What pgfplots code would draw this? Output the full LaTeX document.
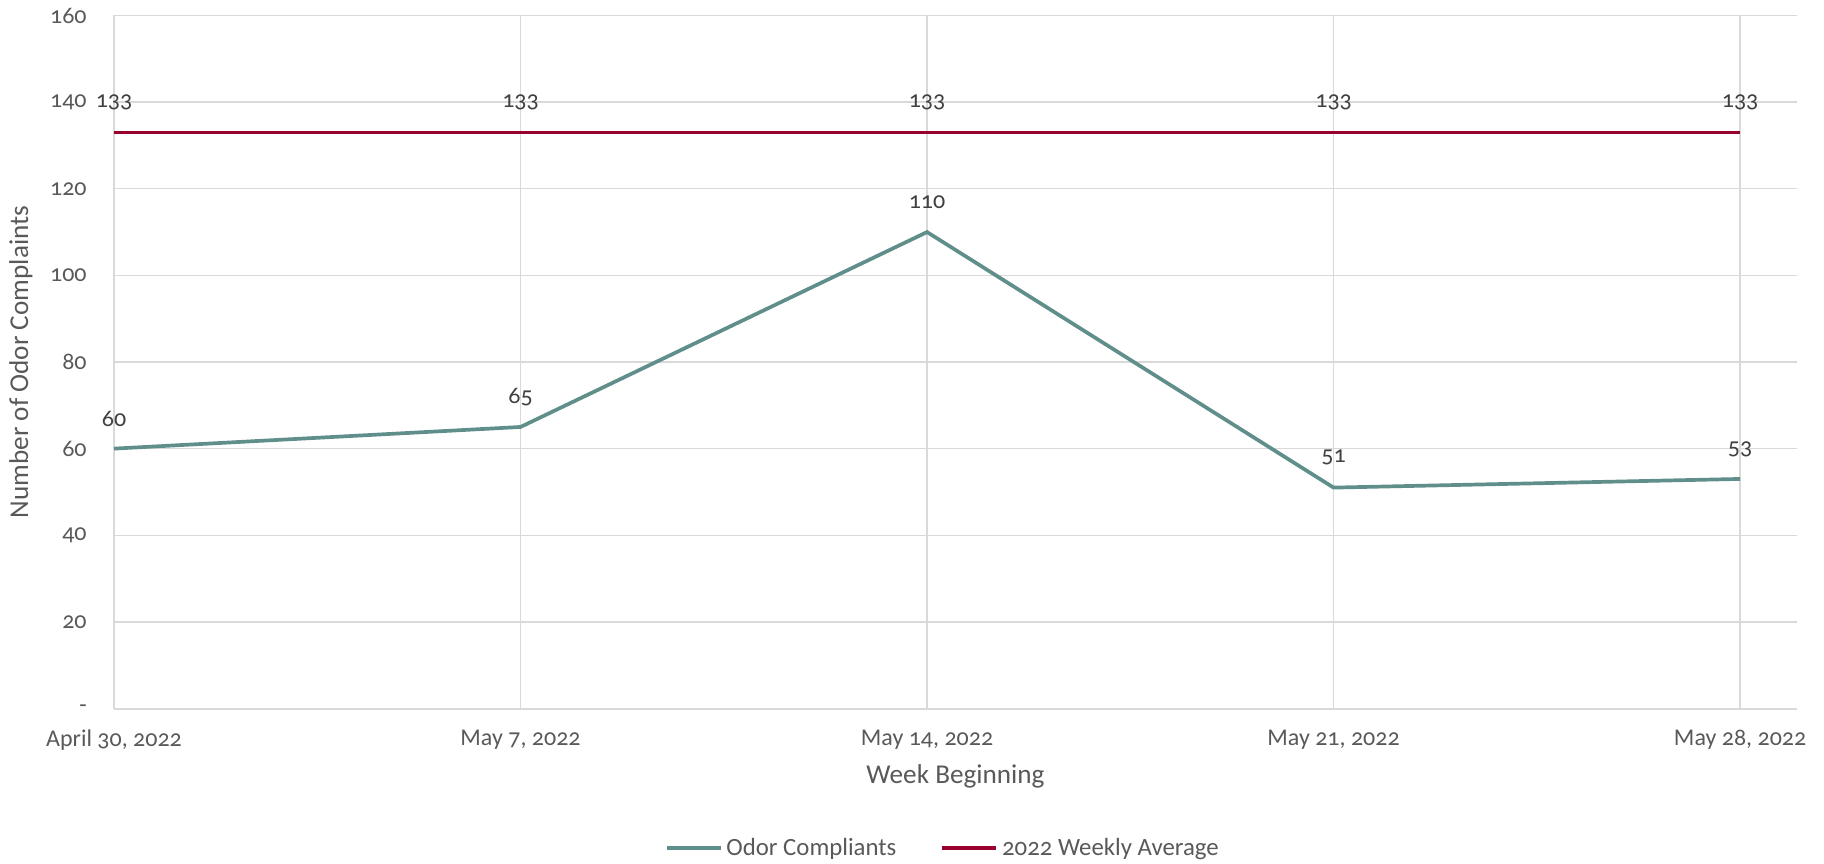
\documentclass[border=0pt]{standalone}
\usepackage{fontspec}
\setmainfont{Carlito}[Numbers=OldStyle]
\usepackage{pgfplots}
\pgfplotsset{compat=1.18}
\definecolor{teal1}{RGB}{95,142,139}
\definecolor{wine}{RGB}{152,0,46}
\definecolor{gridg}{RGB}{217,217,217}
\definecolor{txt}{RGB}{89,89,89}
\definecolor{lbl}{RGB}{64,64,64}
\begin{document}
\begin{tikzpicture}
\useasboundingbox (0,0) rectangle (912pt,431.5pt);
\begin{axis}[
  at={(57pt,77.25pt)}, anchor=south west,
  scale only axis, width=841.5pt, height=346.5pt,
  xmin=0, xmax=4.14, ymin=0, ymax=160,
  xtick={0,1,2,3,4},
  xticklabels={{April 30, 2022},{May 7, 2022},{May 14, 2022},{May 21, 2022},{May 28, 2022}},
  ytick={0,20,40,60,80,100,120,140,160},
  yticklabels={-,20,40,60,80,100,120,140,160},
  grid=major, major grid style={gridg, line width=0.75pt},
  axis x line*=bottom, axis y line*=left,
  axis line style={gridg, line width=1pt, -},
  major tick length=0pt,
  /pgf/number format/assume math mode=true,
  tick label style={font=\fontsize{12}{14}\selectfont, text=txt},
  xticklabel style={anchor=center, yshift=-15.75pt},
  yticklabel style={anchor=east, inner sep=0pt, xshift=-13.5pt},
  xlabel={Week Beginning},
  ylabel={Number of Odor Complaints},
  label style={font=\fontsize{13.6}{16}\selectfont, text=txt},
  xlabel style={at={(axis description cs:0.5,-0.0981)}, anchor=center},
  ylabel style={at={(axis description cs:-0.05526,0.5)}, anchor=center},
  nodes near coords,
  nodes near coords style={font=\fontsize{12}{14}\selectfont, text=lbl, anchor=center, yshift=15pt},
  legend style={at={(0.493,-0.2013)}, anchor=center, draw=none, fill=none,
    legend columns=2, font=\fontsize{12.4}{15}\selectfont, text=txt,
    /tikz/every even column/.append style={column sep=20pt}},
  legend image code/.code={\draw[#1] (0pt,0pt) -- (27pt,0pt);},
]
\addplot[teal1, line width=1.85pt] coordinates {(0,60) (1,65) (2,110) (3,51) (4,53)};
\addlegendentry{Odor Compliants}
\addplot[wine, line width=1.85pt] coordinates {(0,133) (1,133) (2,133) (3,133) (4,133)};
\addlegendentry{2022 Weekly Average}
\end{axis}
\end{tikzpicture}
\end{document}
